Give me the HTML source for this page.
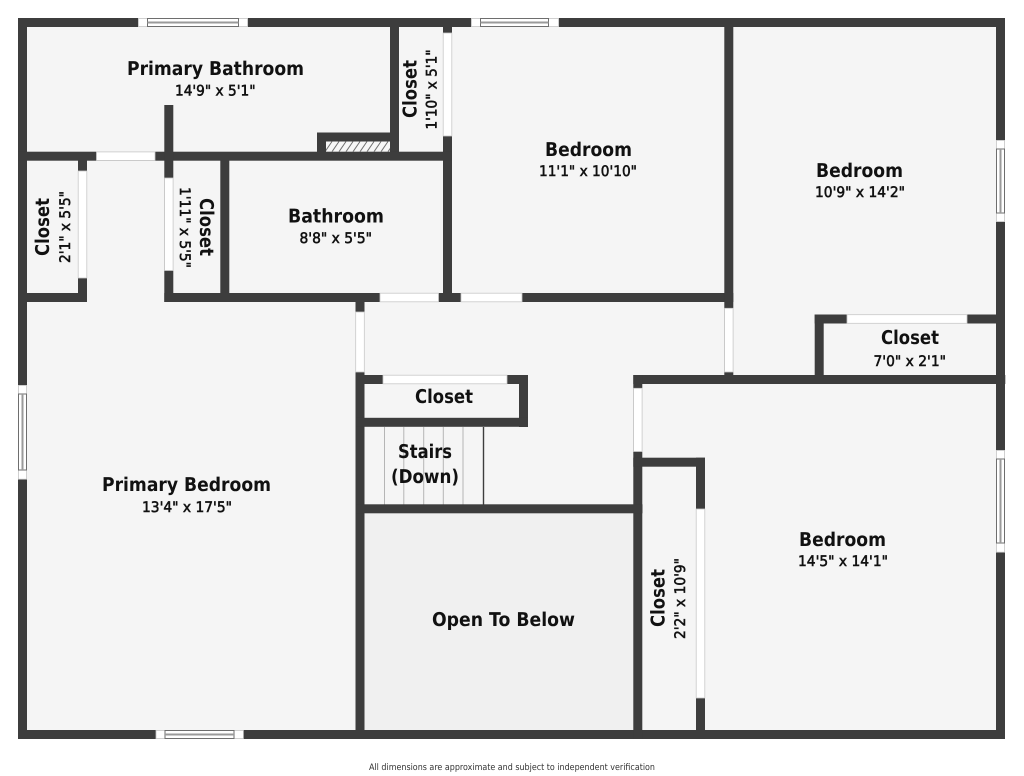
<!DOCTYPE html>
<html><head><meta charset="utf-8"><title>Floor plan</title>
<style>
html,body{margin:0;padding:0;background:#fff}
svg{display:block}
text{fill:#111;font-family:"DejaVu Sans","Liberation Sans",sans-serif}
.t{font-size:19px;font-weight:700}
.d{font-size:14.5px;font-weight:400;stroke:#111;stroke-width:.55px}
.f{font-size:9px;fill:#333}
</style></head><body>
<svg width="1024" height="776" viewBox="0 0 1024 776" xmlns="http://www.w3.org/2000/svg">
<defs>
<pattern id="h" width="7" height="10.2" patternUnits="userSpaceOnUse" patternTransform="translate(326 141.5)">
<rect width="7" height="10.2" fill="#f7f7f7"/>
<path d="M-1 10.2L6 0M6 10.2L13 0" stroke="#666" stroke-width=".9" fill="none"/>
</pattern>
</defs>
<rect width="1024" height="776" fill="#fff"/>
<rect x="18" y="18" width="987" height="721" fill="#f5f5f5"/>
<rect x="364" y="513" width="270" height="217" fill="#f0f0f0"/>
<rect x="326" y="141.5" width="64" height="10.2" fill="url(#h)"/>

<!-- stairs -->
<g stroke="#b5b5b5" stroke-width="1">
<path d="M384.5 427V505M403.8 427V505M423.7 427V505M443.3 427V505M463 427V505"/>
</g>
<path d="M483.5 427V505" stroke="#3d3d3d" stroke-width="1.4"/>

<!-- walls -->
<g fill="#3d3d3d">
<rect x="18" y="18" width="987" height="9"/>
<rect x="18" y="730" width="987" height="9"/>
<rect x="18" y="18" width="9" height="721"/>
<rect x="996" y="18" width="9" height="721"/>
<rect x="390" y="27" width="9" height="128"/>
<rect x="443" y="27" width="9" height="275"/>
<rect x="18" y="151.7" width="434" height="9"/>
<rect x="164.3" y="105" width="9" height="197"/>
<rect x="78" y="160" width="9" height="142"/>
<rect x="18" y="293" width="69" height="9"/>
<rect x="220.3" y="160" width="9" height="142"/>
<rect x="164.3" y="293" width="569" height="9"/>
<rect x="317" y="132.5" width="82" height="9"/>
<rect x="317" y="132.5" width="9" height="22"/>
<rect x="724.3" y="27" width="9" height="357"/>
<rect x="633.3" y="375" width="372" height="9"/>
<rect x="814.7" y="314.5" width="9" height="65"/>
<rect x="814.7" y="314.5" width="190" height="9"/>
<rect x="633.3" y="375" width="9" height="364"/>
<rect x="633.3" y="457.7" width="71.7" height="9"/>
<rect x="696" y="457.7" width="9" height="281"/>
<rect x="355.5" y="302" width="9" height="437"/>
<rect x="355.5" y="504.3" width="287" height="9"/>
<rect x="355.5" y="375" width="172.5" height="9"/>
<rect x="519" y="375" width="9" height="52"/>
<rect x="355.5" y="417.8" width="172.5" height="9"/>
</g>

<!-- doors -->
<g fill="#fff" stroke="#c8c8c8" stroke-width=".8">
<rect x="96.5" y="151.9" width="58.5" height="8.6"/>
<rect x="380" y="293.2" width="58.5" height="8.6"/>
<rect x="461" y="293.2" width="61" height="8.6"/>
<rect x="847" y="314.7" width="120" height="8.6"/>
<rect x="383" y="375.2" width="124" height="8.6"/>
<rect x="443.2" y="33" width="8.6" height="103"/>
<rect x="78.2" y="171" width="8.6" height="107"/>
<rect x="164.5" y="178" width="8.6" height="92.5"/>
<rect x="355.7" y="312" width="8.6" height="60"/>
<rect x="724.5" y="308.3" width="8.6" height="63.7"/>
<rect x="633.5" y="388.3" width="8.6" height="63.2"/>
<rect x="696.2" y="509" width="8.6" height="189"/>
</g>

<!-- windows -->
<g fill="#fff" stroke="#c4c4c4" stroke-width=".8">
<rect x="138.4" y="18.4" width="109.2" height="8.2"/>
<rect x="471.4" y="18.4" width="87.2" height="8.2"/>
<rect x="156" y="730.4" width="87.4" height="8.2"/>
<rect x="996.4" y="140.4" width="8.2" height="81.2"/>
<rect x="996.4" y="450.4" width="8.2" height="101.8"/>
<rect x="18.4" y="385.4" width="8.2" height="93.8"/>
</g>
<g fill="none" stroke="#6e6e6e" stroke-width="1">
<path d="M147.5 18.5H238.5V26.5H147.5Z"/>
<path d="M480.5 18.5H548.5V26.5H480.5Z"/>
<path d="M165 730.5H234V738.5H165Z"/>
<path d="M996.5 149H1004.5V213H996.5Z"/>
<path d="M996.5 459H1004.5V543H996.5Z"/>
<path d="M18.5 394H26.5V470H18.5Z"/>
</g>
<g fill="none" stroke="#9a9a9a" stroke-width="2">
<path d="M147.5 22.5H238.5M480.5 22.5H548.5M165 734.5H234M1000.5 149V213M1000.5 459V543M22.5 394V470"/>
</g>

<!-- labels -->
<g text-rendering="geometricPrecision">
<text class="t" x="127" y="75" textLength="177" lengthAdjust="spacingAndGlyphs">Primary Bathroom</text>
<text class="d" x="175" y="95.5" textLength="80.5" lengthAdjust="spacingAndGlyphs">14'9" x 5'1"</text>
<text class="t" x="545" y="156" textLength="87" lengthAdjust="spacingAndGlyphs">Bedroom</text>
<text class="d" x="539" y="176" textLength="98" lengthAdjust="spacingAndGlyphs">11'1" x 10'10"</text>
<text class="t" x="816" y="177" textLength="87" lengthAdjust="spacingAndGlyphs">Bedroom</text>
<text class="d" x="815" y="197" textLength="90" lengthAdjust="spacingAndGlyphs">10'9" x 14'2"</text>
<text class="t" x="288" y="222.5" textLength="96" lengthAdjust="spacingAndGlyphs">Bathroom</text>
<text class="d" x="299.5" y="243" textLength="72.5" lengthAdjust="spacingAndGlyphs">8'8" x 5'5"</text>
<text class="t" x="881" y="344" textLength="58" lengthAdjust="spacingAndGlyphs">Closet</text>
<text class="d" x="873.5" y="366" textLength="72.5" lengthAdjust="spacingAndGlyphs">7'0" x 2'1"</text>
<text class="t" x="415" y="403" textLength="58" lengthAdjust="spacingAndGlyphs">Closet</text>
<text class="t" x="398" y="458" textLength="54" lengthAdjust="spacingAndGlyphs">Stairs</text>
<text class="t" x="391" y="483" textLength="68" lengthAdjust="spacingAndGlyphs">(Down)</text>
<text class="t" x="102" y="491" textLength="169" lengthAdjust="spacingAndGlyphs">Primary Bedroom</text>
<text class="d" x="142" y="512" textLength="90" lengthAdjust="spacingAndGlyphs">13'4" x 17'5"</text>
<text class="t" x="799" y="546" textLength="87" lengthAdjust="spacingAndGlyphs">Bedroom</text>
<text class="d" x="798" y="566" textLength="90" lengthAdjust="spacingAndGlyphs">14'5" x 14'1"</text>
<text class="t" x="432" y="626" textLength="143" lengthAdjust="spacingAndGlyphs">Open To Below</text>
<text class="f" x="369" y="770" textLength="286" lengthAdjust="spacingAndGlyphs">All dimensions are approximate and subject to independent verification</text>

<text class="t" transform="translate(416.5 118) rotate(-90)" textLength="58" lengthAdjust="spacingAndGlyphs">Closet</text>
<text class="d" transform="translate(436.7 129.5) rotate(-90)" textLength="80" lengthAdjust="spacingAndGlyphs">1'10" x 5'1"</text>
<text class="t" transform="translate(49 256) rotate(-90)" textLength="58" lengthAdjust="spacingAndGlyphs">Closet</text>
<text class="d" transform="translate(70 263) rotate(-90)" textLength="72" lengthAdjust="spacingAndGlyphs">2'1" x 5'5"</text>
<text class="t" transform="translate(200 198) rotate(90)" textLength="58" lengthAdjust="spacingAndGlyphs">Closet</text>
<text class="d" transform="translate(180 187) rotate(90)" textLength="81" lengthAdjust="spacingAndGlyphs">1'11" x 5'5"</text>
<text class="t" transform="translate(664.5 627) rotate(-90)" textLength="58" lengthAdjust="spacingAndGlyphs">Closet</text>
<text class="d" transform="translate(685 639) rotate(-90)" textLength="81" lengthAdjust="spacingAndGlyphs">2'2" x 10'9"</text>
</g>
</svg>
</body></html>
